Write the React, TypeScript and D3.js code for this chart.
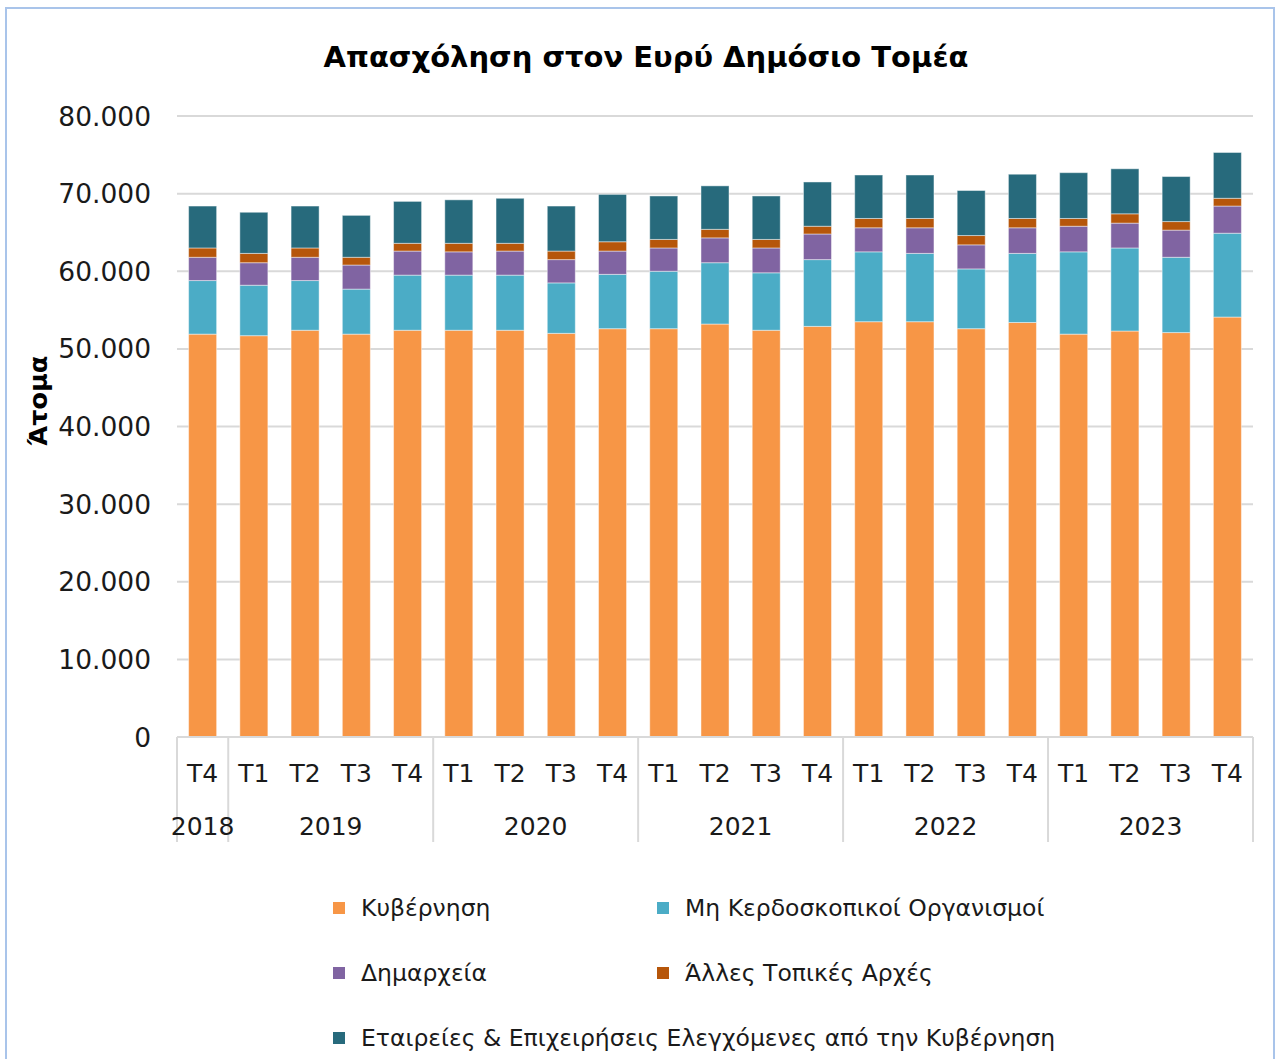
import React from "react";
import * as d3 from "d3";

const quarters = ["T4","T1","T2","T3","T4","T1","T2","T3","T4","T1","T2","T3","T4","T1","T2","T3","T4","T1","T2","T3","T4"];
const years = ["2018","2019","2020","2021","2022","2023"];
const yearSpans = [1, 4, 4, 4, 4, 4];

const government = [51.9,51.7,52.4,51.9,52.4,52.4,52.4,52.0,52.6,52.6,53.2,52.4,52.9,53.5,53.5,52.6,53.4,51.9,52.3,52.1,54.1].map(v => v * 1000);
const nonProfit = [6.9,6.5,6.4,5.8,7.1,7.1,7.1,6.5,7.0,7.4,7.9,7.4,8.6,9.0,8.8,7.7,8.9,10.6,10.7,9.7,10.8].map(v => v * 1000);
const municipalities = [3.0,2.9,3.0,3.1,3.1,3.0,3.1,3.0,3.0,3.0,3.2,3.2,3.3,3.1,3.3,3.1,3.3,3.3,3.2,3.5,3.5].map(v => v * 1000);
const otherLocal = [1.2,1.2,1.2,1.0,1.0,1.1,1.0,1.1,1.2,1.1,1.1,1.1,1.0,1.2,1.2,1.2,1.2,1.0,1.2,1.1,1.0].map(v => v * 1000);
const companies = [5.4,5.3,5.4,5.4,5.4,5.6,5.8,5.8,6.1,5.6,5.6,5.6,5.7,5.6,5.6,5.8,5.7,5.9,5.8,5.8,5.9].map(v => v * 1000);

const seriesNames = [
  "Κυβέρνηση",
  "Μη Κερδοσκοπικοί Οργανισμοί",
  "Δημαρχεία",
  "Άλλες Τοπικές Αρχές",
  "Εταιρείες & Επιχειρήσεις Ελεγχόμενες από την Κυβέρνηση",
];
const seriesKeys = ["gov", "npo", "mun", "oth", "comp"];
const colors = ["#F79646", "#4BACC6", "#8064A2", "#B6560A", "#276A7C"];
const yTicks = [0, 10000, 20000, 30000, 40000, 50000, 60000, 70000, 80000];

const FONT = "'DejaVu Sans', Verdana, sans-serif";

export default function App() {
  const W = 1279, H = 1059;
  const left = 177, right = 1253, top = 116, bottom = 737;

  const rows = quarters.map((q, i) => ({
    id: i,
    gov: government[i],
    npo: nonProfit[i],
    mun: municipalities[i],
    oth: otherLocal[i],
    comp: companies[i],
  }));

  const x = d3.scaleBand<number>()
    .domain(rows.map(r => r.id))
    .range([left, right])
    .paddingInner(0.453)
    .paddingOuter(0.2265);
  const y = d3.scaleLinear().domain([0, 80000]).range([bottom, top]);
  const locale = d3.formatLocale({ decimal: ",", thousands: ".", grouping: [3], currency: ["", "€"] });
  const fmt = locale.format(",d");

  const stacked = d3.stack<any>().keys(seriesKeys)(rows);
  const step = x.step();

  const boundaries: number[] = [];
  let idx = 0;
  boundaries.push(left);
  yearSpans.forEach(s => { idx += s; boundaries.push(left + step * idx); });

  const legendItems = [
    { i: 0, x: 333, y: 908 },
    { i: 1, x: 657, y: 908 },
    { i: 2, x: 333, y: 973 },
    { i: 3, x: 657, y: 973 },
    { i: 4, x: 333, y: 1038 },
  ];

  return (
    <svg width={W} height={H} style={{ position: "absolute", left: 0, top: 0, background: "#fff" }} fontFamily={FONT}>
      <rect x={6} y={8} width={1268} height={1070} fill="#fff" stroke="#A9C4EA" strokeWidth={2} />
      <text x={646} y={57} textAnchor="middle" dominantBaseline="central" fontSize={29} fontWeight="bold" fill="#000">
        Απασχόληση στον Ευρύ Δημόσιο Τομέα
      </text>
      {yTicks.map(t => (
        <g key={t}>
          {t > 0 && <line x1={left} x2={right} y1={y(t)} y2={y(t)} stroke="#D9D9D9" strokeWidth={2} />}
          <text x={151} y={y(t)} textAnchor="end" dominantBaseline="central" fontSize={26.5} fill="#1a1a1a">{fmt(t)}</text>
        </g>
      ))}
      <text transform={`translate(38,401) rotate(-90)`} textAnchor="middle" dominantBaseline="central" fontSize={25.5} fontWeight="bold" fill="#000">Άτομα</text>
      {stacked.map((layer, li) => (
        <g key={li} fill={colors[li]}>
          {layer.map((d, j) => (
            <rect key={j} x={x(j)!} width={x.bandwidth()} y={y(d[1])} height={y(d[0]) - y(d[1])}
              stroke="rgba(255,255,255,0.45)" strokeWidth={1} />
          ))}
        </g>
      ))}
      <line x1={left} x2={right} y1={bottom} y2={bottom} stroke="#D9D9D9" strokeWidth={2} />
      {boundaries.map((b, i) => (
        <line key={i} x1={b} x2={b} y1={bottom} y2={842} stroke="#D9D9D9" strokeWidth={2} />
      ))}
      {quarters.map((q, i) => (
        <text key={i} x={x(i)! + x.bandwidth() / 2} y={773} textAnchor="middle" dominantBaseline="central" fontSize={25} fill="#1a1a1a">{q}</text>
      ))}
      {years.map((yr, i) => (
        <text key={yr} x={(boundaries[i] + boundaries[i + 1]) / 2} y={826} textAnchor="middle" dominantBaseline="central" fontSize={25} fill="#1a1a1a">{yr}</text>
      ))}
      {legendItems.map(l => (
        <g key={l.i}>
          <rect x={l.x} y={l.y - 6} width={12} height={12} fill={colors[l.i]} />
          <text x={l.x + 28} y={l.y} dominantBaseline="central" fontSize={23.5} fill="#1a1a1a">{seriesNames[l.i]}</text>
        </g>
      ))}
    </svg>
  );
}
